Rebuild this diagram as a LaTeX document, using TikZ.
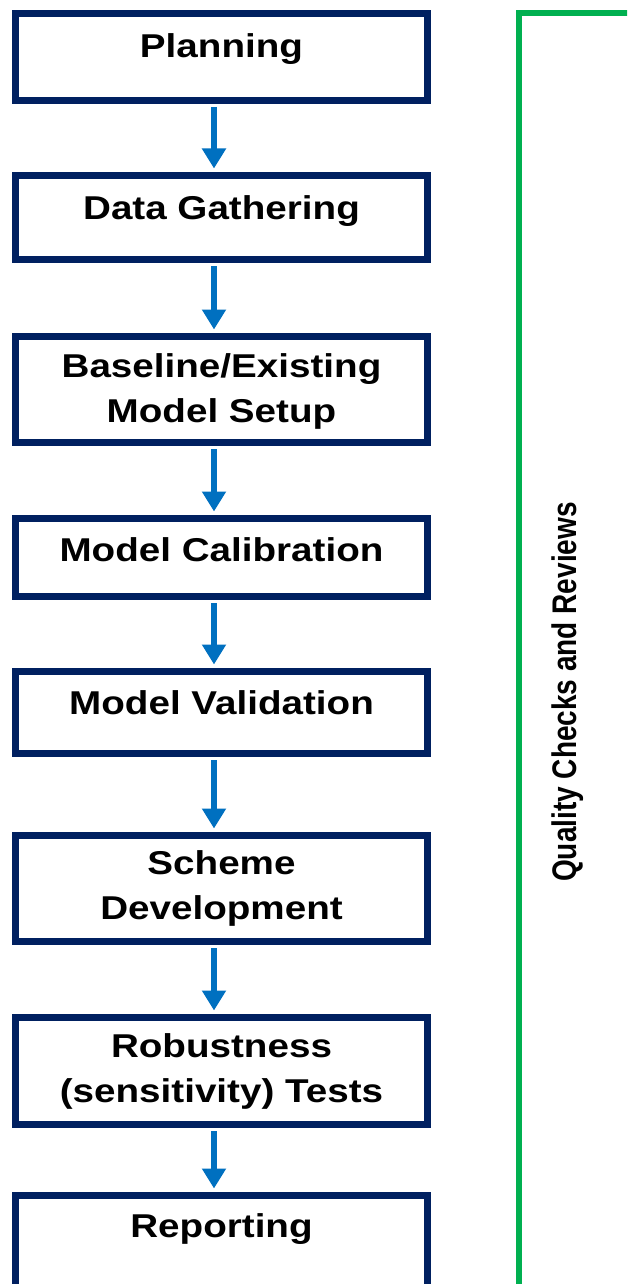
\documentclass[tikz,border=0pt]{standalone}
\usepackage{fontspec}
\usepackage{graphicx}
\newfontfamily\boxfont[FakeStretch=1.17]{Liberation Sans}
\newfontfamily\sidefont{Liberation Sans}
\usetikzlibrary{arrows.meta,calc}
\definecolor{navy}{RGB}{0,32,96}
\definecolor{flowblue}{RGB}{0,112,192}
\definecolor{qagreen}{RGB}{0,176,80}
\newcommand{\twolines}[2]{\begin{tabular}[t]{@{}c@{}}#1\\#2\end{tabular}}
\begin{document}
\begin{tikzpicture}[x=1pt,y=-1pt,
  stage/.style={draw=navy, fill=white, line width=7pt, rectangle,
                minimum width=412pt, inner sep=0pt},
  lbl/.style={font=\boxfont\bfseries\fontsize{33}{45}\selectfont,
              inner sep=0pt, anchor=base},
  flow/.style={draw=flowblue, line width=6pt,
               -{Triangle[width=23pt,length=20pt]},
               shorten <=3pt, shorten >=3.5pt},
  qa/.style={draw=qagreen, line width=6pt},
  side/.style={font=\sidefont\bfseries\fontsize{28}{34}\selectfont, inner sep=0pt}]
\useasboundingbox (0,0) rectangle (627,1284);
\clip (0,0) rectangle (627,1284);
\fill[white] (0,0) rectangle (627,1284);

% process stages
\node[stage, minimum height=87pt]  (plan)  at (221.5,57)   {};
\node[stage, minimum height=84pt]  (gath)  at (221.5,217.5) {};
\node[stage, minimum height=106pt] (base)  at (221.5,389.5) {};
\node[stage, minimum height=78pt]  (calib) at (221.5,557.5) {};
\node[stage, minimum height=82pt]  (valid) at (221.5,712.5) {};
\node[stage, minimum height=106pt] (scheme) at (221.5,888.5) {};
\node[stage, minimum height=107pt] (robust) at (221.5,1071) {};
\node[stage, minimum height=104pt] (report) at (221.5,1247.5) {};

% stage titles, first baseline measured from the top border
\node[lbl] (tplan)   at ([yshift=-47.5pt]plan.north)   {Planning};
\node[lbl] (tgath)   at ([yshift=-47.5pt]gath.north)   {Data Gathering};
\node[lbl] (tbase)   at ([yshift=-44.5pt]base.north)   {\twolines{Baseline/Existing}{Model Setup}};
\node[lbl] (tcalib)  at ([yshift=-46.5pt]calib.north)  {Model Calibration};
\node[lbl] (tvalid)  at ([yshift=-46.5pt]valid.north)  {Model Validation};
\node[lbl] (tscheme) at ([yshift=-42.5pt]scheme.north) {\twolines{Scheme}{Development}};
\node[lbl] (trobust) at ([yshift=-43.5pt]robust.north) {\twolines{Robustness}{(sensitivity) Tests}};
\node[lbl] (treport) at ([yshift=-45.5pt]report.north) {Reporting};

% flow arrows, slightly left of the box centres
\coordinate (ax) at (214,0);
\foreach \a/\b in {plan/gath, gath/base, base/calib, calib/valid,
                   valid/scheme, scheme/robust, robust/report}
  \draw[flow] (\a.south -| ax) -- (\b.north -| ax);

% quality-review bracket
\coordinate (gbot) at (519,1300);
\coordinate (gcorner) at (519,13);
\coordinate (gend) at (640,13);
\draw[qa] (gbot) -- (gcorner) -- (gend);
\node[side, rotate=90] (qc) at (568,692)
  {\scalebox{1}[1.22]{Quality Checks and Reviews}};
\end{tikzpicture}
\end{document}
